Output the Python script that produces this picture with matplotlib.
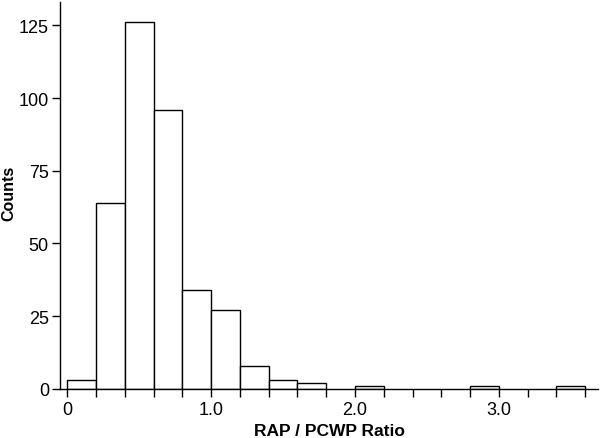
import matplotlib
matplotlib.use("Agg")
import matplotlib.pyplot as plt
import numpy as np
from matplotlib.ticker import MultipleLocator

# histogram of RAP / PCWP ratio, bin width 0.2
bin_left = np.arange(0.0, 3.6, 0.2)
counts = [3, 64, 126, 96, 34, 27, 8, 3, 2, 0, 1, 0, 0, 0, 1, 0, 0, 1]
bin_width = 0.2

x_ticks = [0.0, 1.0, 2.0, 3.0]
x_labels = ["0", "1.0", "2.0", "3.0"]
y_ticks = [0, 25, 50, 75, 100, 125]

plt.rcParams["font.family"] = ["Liberation Sans", "DejaVu Sans"]

dpi = 100
fig = plt.figure(figsize=(6.0, 4.39), dpi=dpi)
ax = fig.add_axes([0.10, 0.112, 0.897, 0.881])

for x0, c in zip(bin_left, counts):
    if c == 0:
        continue
    ax.bar(x0, c, width=bin_width, align="edge", facecolor="white",
           edgecolor="black", linewidth=1.0, zorder=2)

ax.set_xlim(-0.05, 3.69)
ax.set_ylim(0, 133)

ax.set_xticks(x_ticks)
ax.set_xticklabels(x_labels)
ax.xaxis.set_minor_locator(MultipleLocator(0.2))
ax.set_yticks(y_ticks)

for side in ("top", "right"):
    ax.spines[side].set_visible(False)
for side in ("left", "bottom"):
    ax.spines[side].set_linewidth(1.0)
    ax.spines[side].set_zorder(3)

ax.tick_params(axis="both", which="both", direction="out", width=1.0,
               colors="black", labelsize=13)
ax.tick_params(axis="x", which="both", length=5.5, pad=3)
ax.tick_params(axis="y", which="major", length=6, pad=2)

# axis titles placed in figure pixels, the figure is tight around them
fig.text(329 / 600, 1 - 436 / 439, "RAP / PCWP Ratio", ha="center", va="baseline",
         fontsize=12.5, fontweight="bold")
fig.text(9 / 600, 1 - 193 / 439, "Counts", rotation=90, ha="center", va="center",
         fontsize=11.5, fontweight="bold")

fig.savefig("out.png", dpi=dpi, facecolor="white")
